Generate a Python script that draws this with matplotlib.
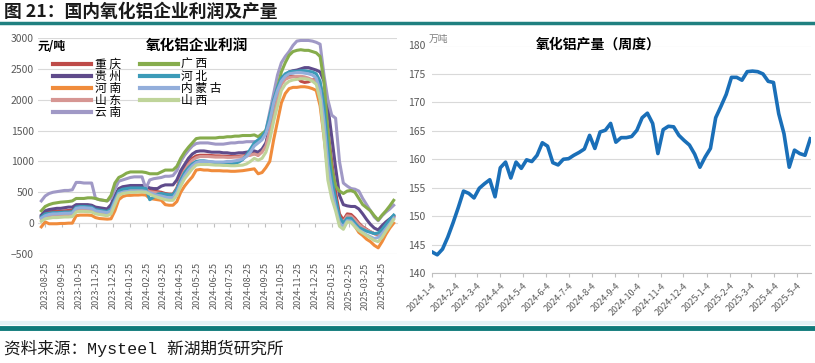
import matplotlib
matplotlib.use("Agg")
import matplotlib.pyplot as plt
import matplotlib.dates as mdates
from matplotlib.lines import Line2D
from matplotlib.ticker import FuncFormatter
import pandas as pd

plt.rcParams["font.family"] = ["Noto Sans CJK SC", "DejaVu Sans"]

# ── 左图：氧化铝企业利润（元/吨，周度）───────────────────────────────────────
profit_dates = pd.date_range("2023-08-18", periods=92, freq="7D")

chongqing = [100, 170, 180, 190, 190, 195, 200, 205, 210,
             280, 290, 290, 285, 280,
             240, 230, 220, 210,
             250, 400, 540, 570, 580, 585, 585, 590, 590, 580,
             530, 520, 510, 500, 480, 470, 470,
             570, 750, 880, 980, 1050, 1090, 1100,
             1100, 1100, 1095, 1090, 1090, 1085, 1085, 1080, 1080, 1085, 1090, 1100, 1110, 1130,
             1100, 1170, 1280, 1520, 1820, 2080, 2270, 2340, 2380, 2380,
             2370, 2300, 2280, 2290, 2320, 2330, 2250,
             2000, 1500, 1000, 500, 150, 50, 150, 140,
             80, 0, -60, -100, -140, -170, -190, -120, -40, 30, 100]
guizhou = [130, 200, 220, 230, 240, 240, 250, 260, 260,
           300, 300, 300, 300, 290,
           260, 250, 240, 230,
           300, 450, 560, 590, 600, 610, 610, 610, 610, 600,
           570, 560, 560, 600, 620, 620, 620,
           700, 850, 950, 1050, 1120, 1160, 1170,
           1170, 1160, 1150, 1150, 1150, 1140, 1140, 1130, 1130, 1140, 1140, 1150, 1160, 1170,
           1150, 1200, 1300, 1550, 1850, 2100, 2300, 2400, 2450, 2470,
           2480, 2500, 2520, 2520, 2500, 2480, 2450,
           2300, 1900, 1400, 900, 450, 300, 280, 270,
           270, 230, 150, 60, -20, -80, -110, -40, 20, 70, 120]
henan = [-60, 20, -10, -10, -10, -5, -5, 0, 0,
         120, 130, 130, 130, 125,
         90, 75, 70, 65,
         70, 200, 380, 430, 450, 450, 455, 455, 460, 455,
         400, 390, 380, 370, 300, 290, 290,
         350, 500, 600, 680, 750, 860, 870,
         860, 860, 850, 850, 850, 845, 845, 840, 840, 845, 850, 860, 870, 880,
         800, 820, 900, 1000, 1350, 1650, 1950, 2100, 2180, 2200,
         2200, 2210, 2210, 2200, 2180, 2150, 1900,
         1400, 850, 500, 300, 0, -80, 50, 30,
         -50, -150, -200, -260, -300, -360, -400, -300, -180, -80, 0]
shandong = [70, 110, 120, 130, 130, 135, 140, 140, 145,
            220, 230, 230, 225, 220,
            180, 170, 160, 150,
            190, 340, 500, 530, 540, 545, 545, 550, 550, 540,
            510, 500, 490, 480, 460, 450, 450,
            550, 720, 850, 950, 1020, 1060, 1080,
            1080, 1080, 1075, 1070, 1070, 1070, 1065, 1065, 1070, 1070, 1080, 1090, 1100, 1120,
            1100, 1150, 1250, 1500, 1800, 2050, 2250, 2330, 2360, 2370,
            2380, 2380, 2370, 2350, 2320, 2300, 2150,
            1700, 1100, 600, 300, 80, 20, 120, 110,
            50, -20, -70, -110, -140, -170, -180, -120, -40, 40, 110]
yunnan = [360, 440, 480, 500, 510, 520, 530, 530, 540,
          660, 660, 650, 650, 650,
          400, 380, 370, 360,
          400, 550, 680, 700, 720, 740, 750, 750, 750, 560,
          700, 720, 730, 740, 760, 760, 770,
          850, 1000, 1100, 1180, 1250, 1290, 1300,
          1300, 1300, 1290, 1280, 1280, 1280, 1290, 1300, 1300, 1310, 1310, 1320, 1320, 1320,
          1330, 1380, 1500, 1800, 2100, 2400, 2600, 2700, 2780, 2880,
          2950, 2960, 2960, 2960, 2950, 2930, 2900,
          2400, 2000, 1750, 1700, 1000, 650, 600, 560,
          550, 520, 400, 300, 200, 100, 40, 120, 180, 230, 290]
guangxi = [200, 270, 300, 320, 330, 340, 345, 350, 360,
           400, 400, 400, 410, 410,
           400, 380, 370, 360,
           450, 650, 740, 770, 810, 830, 830, 830, 830, 820,
           800, 800, 800, 830, 860, 860, 860,
           920, 1050, 1150, 1230, 1300, 1370, 1380,
           1380, 1380, 1380, 1380, 1390, 1390, 1400, 1400, 1410, 1410, 1420, 1420, 1420, 1430,
           1400, 1450, 1500, 1650, 1950, 2200, 2450, 2600, 2720, 2780,
           2800, 2810, 2800, 2800, 2780, 2760, 2700,
           2300, 1500, 900, 600, 520, 480, 520, 530,
           500, 400, 300, 250, 200, 120, 50, 130, 200, 280, 370]
hebei = [100, 150, 160, 170, 170, 175, 180, 180, 185,
         260, 270, 270, 265, 260,
         220, 210, 200, 190,
         230, 380, 520, 550, 560, 570, 570, 570, 570, 560,
         380, 420, 470, 480, 470, 460, 460,
         550, 700, 820, 900, 960, 1000, 1010,
         1010, 1000, 990, 980, 970, 960, 960, 960, 970, 990, 1030, 1100, 1200, 1300,
         1350, 1400, 1500, 1750, 2000, 2200, 2350, 2420, 2450, 2460,
         2460, 2470, 2470, 2460, 2450, 2420, 2300,
         1900, 1200, 700, 400, 100, 0, 80, 80,
         0, -70, -100, -130, -150, -170, -160, -100, -20, 60, 130]
neimenggu = [80, 120, 140, 150, 150, 155, 160, 160, 165,
             240, 250, 250, 245, 240,
             200, 190, 180, 170,
             200, 350, 480, 500, 510, 520, 520, 520, 520, 515,
             490, 470, 450, 440, 420, 410, 410,
             500, 650, 770, 860, 930, 980, 1000,
             1000, 1000, 995, 990, 990, 990, 1000, 1000, 1010, 1020, 1040, 1080, 1150, 1250,
             1300, 1350, 1450, 1650, 1950, 2150, 2300, 2380, 2420, 2430,
             2440, 2440, 2430, 2420, 2400, 2350, 2150,
             1650, 950, 550, 250, 0, -60, 40, 30,
             -40, -110, -150, -190, -220, -250, -230, -170, -90, -10, 80]
shanxi = [30, 70, 80, 90, 90, 95, 100, 100, 105,
          180, 190, 190, 185, 180,
          150, 140, 130, 120,
          150, 300, 450, 480, 490, 500, 500, 505, 505, 500,
          470, 440, 420, 400, 380, 370, 370,
          450, 600, 720, 800, 880, 940, 950,
          950, 950, 945, 940, 940, 935, 935, 930, 930, 935, 940, 960, 1000, 1050,
          1020, 1050, 1150, 1350, 1650, 1900, 2150, 2250, 2300, 2320,
          2330, 2340, 2340, 2330, 2300, 2250, 2000,
          1400, 700, 400, 200, -50, -100, 20, 10,
          -60, -120, -160, -200, -240, -280, -300, -230, -130, -40, 60]

province_names = ["重 庆", "贵 州", "河 南", "山 东", "云 南",
                  "广 西", "河 北", "内 蒙 古", "山 西"]
province_series = [chongqing, guizhou, henan, shandong, yunnan,
                   guangxi, hebei, neimenggu, shanxi]
province_colors = ["#BE4B48", "#5F4B8B", "#F08C3C", "#D69693", "#A099C6",
                   "#86AC4C", "#3C9BB8", "#93AEDB", "#BFD49A"]

# ── 右图：氧化铝产量（万吨，周度）────────────────────────────────────────────
output_dates = pd.date_range("2024-01-04", periods=73, freq="7D")
output_vals = [143.7, 143.2, 144.2, 146.3, 148.8, 151.5, 154.4, 154.0, 153.2, 154.9,
               155.7, 156.4, 153.4, 158.5, 159.5, 156.7, 159.5, 158.4, 159.9, 159.6,
               160.7, 162.9, 162.3, 159.4, 159.0, 160.0, 160.1, 160.7, 161.2, 161.8,
               164.2, 161.9, 164.8, 165.1, 166.3, 163.0, 163.8, 163.8, 164.0, 165.1,
               167.3, 168.1, 166.3, 161.0, 165.2, 165.8, 165.7, 164.2, 163.3, 162.5,
               160.9, 158.6, 160.4, 161.9, 167.3, 169.3, 171.4, 174.4, 174.4, 173.9,
               175.4, 175.5, 175.4, 175.0, 173.7, 173.5, 168.0, 164.5, 158.6, 161.6,
               161.0, 160.7, 163.6]

GRID = "#D9D9D9"
TICK = "#595959"

fig = plt.figure(figsize=(8.15, 3.63), dpi=100)
fig.patch.set_facecolor("white")

# ── left panel ──
ax1 = fig.add_axes([38 / 815, 1 - 254 / 363, 359 / 815, 216 / 363])
for name, vals, col in zip(province_names, province_series, province_colors):
    ax1.plot(profit_dates, vals, color=col, lw=2.2, label=name,
             solid_joinstyle="round")
ax1.set_ylim(-500, 3000)
ax1.set_yticks(range(-500, 3001, 500))
ax1.set_xlim(pd.Timestamp("2023-08-12"), pd.Timestamp("2025-05-22"))
ax1.xaxis.set_major_locator(mdates.MonthLocator(bymonthday=25))
ax1.xaxis.set_major_formatter(mdates.DateFormatter("%Y-%m-%d"))
ax1.tick_params(axis="x", labelrotation=90, labelsize=6.5, colors=TICK,
                length=0, pad=6)
ax1.tick_params(axis="y", labelsize=7.5, colors=TICK, length=0, pad=3)
ax1.grid(axis="y", color=GRID, lw=0.8)
ax1.set_axisbelow(True)
for s in ax1.spines.values():
    s.set_visible(False)

# category axis crossing at zero
zero_ax = ax1.secondary_xaxis(0, transform=ax1.transData)
zero_ax.xaxis.set_major_locator(mdates.MonthLocator(bymonthday=25))
zero_ax.tick_params(axis="x", length=3, color="#BFBFBF", labelbottom=False)
zero_ax.spines["bottom"].set_color("#D9D9D9")
zero_ax.spines["bottom"].set_linewidth(0.8)

leg = ax1.legend(loc="upper left", bbox_to_anchor=(0.03, 0.93), ncol=2,
                 frameon=False, fontsize=8.5, handlelength=3.2,
                 handletextpad=0.3, labelspacing=-0.08, columnspacing=1.6,
                 borderaxespad=0)
for h in leg.legend_handles:
    h.set_linewidth(3)

fig.text(197 / 815, 1 - 45 / 363, "氧化铝企业利润", fontsize=10.5,
         fontweight="bold", ha="center", va="center")
fig.text(38 / 815, 1 - 46 / 363, "元/吨", fontsize=8.5, fontweight="bold",
         ha="left", va="center")

# ── right panel ──
ax2 = fig.add_axes([432 / 815, 1 - 273 / 363, 379 / 815, 227.5 / 363])
ax2.plot(output_dates, output_vals, color="#1A6FB8", lw=2.6,
         solid_joinstyle="round")
ax2.set_ylim(140, 180)
ax2.set_yticks(range(140, 181, 5))
ax2.set_xlim(pd.Timestamp("2024-01-04"), pd.Timestamp("2025-05-23"))
ax2.xaxis.set_major_locator(mdates.MonthLocator(bymonthday=4))
ax2.xaxis.set_major_formatter(
    FuncFormatter(lambda v, p: (lambda d: f"{d.year}-{d.month}-{d.day}")(mdates.num2date(v))))
ax2.tick_params(axis="x", labelsize=6.5, colors=TICK, length=3, pad=3)
ax2.tick_params(axis="x", color="#BFBFBF")
for lab in ax2.get_xticklabels():
    lab.set_rotation(45)
    lab.set_ha("right")
    lab.set_rotation_mode("anchor")
ax2.tick_params(axis="y", labelsize=7.5, colors=TICK, length=0, pad=5)
ax2.grid(axis="y", color=GRID, lw=0.8)
ax2.set_axisbelow(True)
for k, s in ax2.spines.items():
    s.set_visible(k == "bottom")
ax2.spines["bottom"].set_color("#BFBFBF")

fig.text(598 / 815, 1 - 45 / 363, "氧化铝产量（周度）", fontsize=10,
         fontweight="bold", ha="center", va="center")
fig.text(429 / 815, 1 - 39 / 363, "万吨", fontsize=7, color="#7F7F7F",
         ha="left", va="center")

# ── header / footer ──
fig.text(4 / 815, 1 - 12 / 363, "图 21：国内氧化铝企业利润及产量", fontsize=12.8,
         fontweight="bold", ha="left", va="center", color="#1A1A1A")
fig.add_artist(Line2D([0, 1], [1 - 23 / 363] * 2, color="#1F8080", lw=2.5,
                      transform=fig.transFigure))
fig.add_artist(Line2D([0, 1], [1 - 323 / 363] * 2, color="#E3F1F5", lw=3,
                      transform=fig.transFigure))
fig.add_artist(Line2D([0, 1], [1 - 328 / 363] * 2, color="#0F7A7A", lw=3.5,
                      transform=fig.transFigure))
fig.text(4 / 815, 1 - 348 / 363, "资料来源：Mysteel 新湖期货研究所", fontsize=12,
         family=["Liberation Mono", "Noto Sans CJK SC"],
         ha="left", va="center", color="#1A1A1A")

fig.savefig("out.png", dpi=100, facecolor="white")
plt.close(fig)
